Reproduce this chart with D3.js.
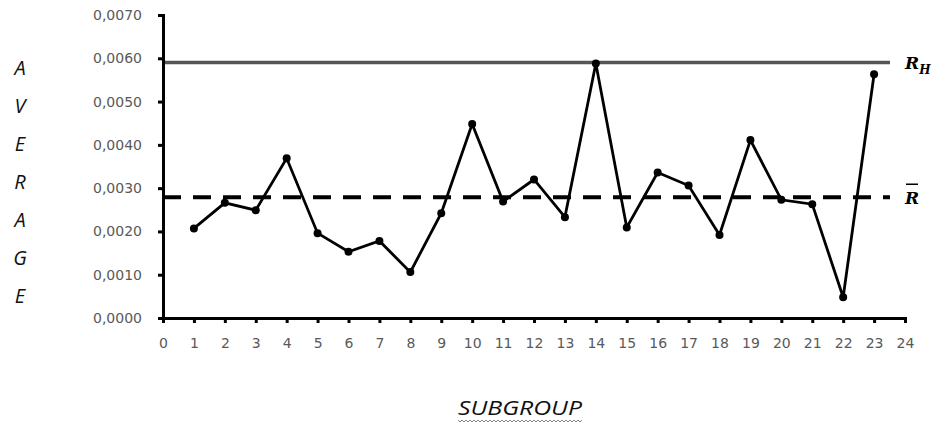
<!DOCTYPE html>
<html><head><meta charset="utf-8">
<script src="https://cdn.jsdelivr.net/npm/d3@7"></script>
<style>body{margin:0;background:#fff}</style>
</head><body>
<svg id="c" width="937" height="426"></svg>
<script>
const subgroups = [1,2,3,4,5,6,7,8,9,10,11,12,13,14,15,16,17,18,19,20,21,22,23];
const averages = [0.00207,0.00266,0.00249,0.00369,0.00196,0.00153,0.00178,0.00106,0.00242,0.00448,0.00269,0.00320,0.00233,0.00588,0.00209,0.00336,0.00306,0.00192,0.00411,0.00273,0.00263,0.00048,0.00563];
const upperLimit = 0.0059;
const meanLine = 0.00279;
const yTicks = [0,0.001,0.002,0.003,0.004,0.005,0.006,0.007];
const xTicks = d3.range(0,25);
const yTitle = ["A","V","E","R","A","G","E"];

const svg = d3.select("#c");
const x = d3.scaleLinear().domain([0,24]).range([163,905]);
const y = d3.scaleLinear().domain([0,0.007]).range([318,15]);
const fmt = d => d3.format(".4f")(d).replace(".", ",");

// reference lines
svg.append("line").attr("x1",x(0)).attr("x2",890).attr("y1",y(upperLimit)).attr("y2",y(upperLimit))
  .attr("stroke","#555").attr("stroke-width",3.5);
svg.append("line").attr("x1",x(0)).attr("x2",890).attr("y1",y(meanLine)).attr("y2",y(meanLine))
  .attr("stroke","#000").attr("stroke-width",4).attr("stroke-dasharray","18,12");

// axes
const ya = svg.append("g").attr("transform",`translate(${x(0)},0)`)
  .call(d3.axisLeft(y).tickValues(yTicks).tickFormat(fmt).tickSize(5).tickPadding(16));
const xa = svg.append("g").attr("transform",`translate(0,${y(0)})`)
  .call(d3.axisBottom(x).tickValues(xTicks).tickFormat(d3.format("d")).tickSize(5).tickPadding(15));
[ya,xa].forEach(g=>{
  g.select(".domain").attr("stroke","#000").attr("stroke-width",3);
  g.selectAll(".tick line").attr("stroke","#000").attr("stroke-width",3);
  g.selectAll(".tick text").attr("fill","#595959").attr("font-family","'DejaVu Sans', sans-serif").attr("font-size",14);
});

// data line
svg.append("path").datum(subgroups.map((s,i)=>[s,averages[i]]))
  .attr("fill","none").attr("stroke","#000").attr("stroke-width",2.8)
  .attr("d", d3.line().x(d=>x(d[0])).y(d=>y(d[1])));
svg.selectAll("circle.pt").data(subgroups).join("circle").attr("class","pt")
  .attr("cx",d=>x(d)).attr("cy",(d,i)=>y(averages[i])).attr("r",4).attr("fill","#000");

// right labels
const rh = svg.append("text").attr("x",905).attr("y",y(upperLimit)+6)
  .attr("font-family","'DejaVu Serif', serif").attr("font-style","italic").attr("font-weight","bold").attr("font-size",17);
rh.append("tspan").text("R");
rh.append("tspan").attr("font-size",12).attr("dy",5).text("H");
svg.append("text").attr("x",905).attr("y",y(meanLine)+7)
  .attr("font-family","'DejaVu Serif', serif").attr("font-style","italic").attr("font-weight","bold").attr("font-size",17).text("R");
svg.append("line").attr("x1",906).attr("x2",918).attr("y1",y(meanLine)-13).attr("y2",y(meanLine)-13).attr("stroke","#000").attr("stroke-width",1.5);

// y title
svg.selectAll("text.yt").data(yTitle).join("text").attr("class","yt")
  .attr("x",20).attr("y",(d,i)=>75+i*38).attr("text-anchor","middle")
  .attr("font-family","'Open Sans', sans-serif").attr("font-style","italic").attr("font-size",20).attr("fill","#111").text(d=>d);

// x title
svg.append("text").attr("x",520).attr("y",415).attr("text-anchor","middle")
  .attr("font-family","'Open Sans', sans-serif").attr("font-style","italic").attr("font-size",20)
  .attr("textLength",124).attr("lengthAdjust","spacingAndGlyphs").attr("fill","#111").text("SUBGROUP");
let wp = "M458,420";
for (let i=0;i<31;i++) wp += ` l2,2 l2,-2`;
svg.append("path").attr("d",wp).attr("fill","none").attr("stroke","#666").attr("stroke-width",0.8);
</script>
</body></html>
